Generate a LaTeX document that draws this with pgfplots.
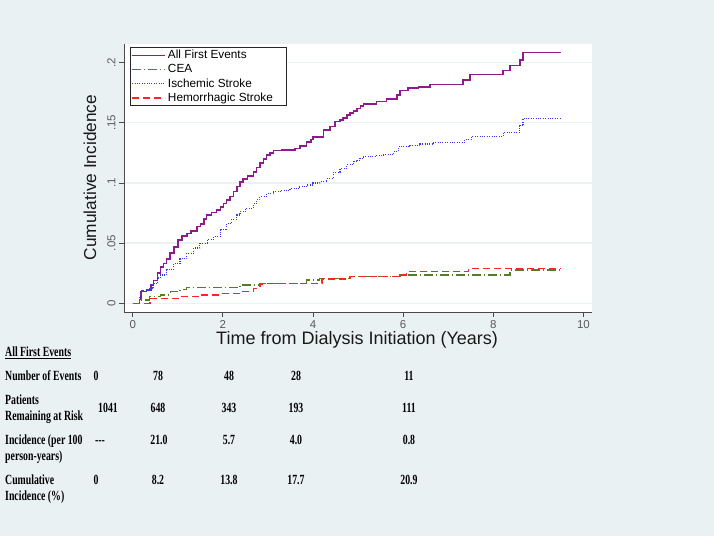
\documentclass[border=0pt]{standalone}
\usepackage{pgfplots}
\pgfplotsset{compat=1.18}
\usepackage{fontspec}
\setmainfont{Liberation Sans}
\newfontfamily\tabfont[FakeStretch=0.7]{Liberation Serif}
\definecolor{bgc}{HTML}{EAF1F3}
\definecolor{gridc}{HTML}{EAF2F3}
\definecolor{axisc}{HTML}{4A4A4A}
\definecolor{tickc}{HTML}{5A5A5A}
\definecolor{cPurple}{HTML}{8E1B8C}
\definecolor{cGreen}{HTML}{537D27}
\definecolor{cBlue}{HTML}{3A3AF5}
\definecolor{cRed}{HTML}{FF2424}

\pgfplotstableread{
x y
0 0
0.15 0.003
0.18 0.0097
0.31 0.011
0.40 0.015
0.46 0.019
0.55 0.025
0.62 0.030
0.68 0.033
0.75 0.037
0.83 0.0416
0.92 0.047
1.01 0.0526
1.10 0.056
1.20 0.058
1.30 0.060
1.42 0.0637
1.50 0.066
1.58 0.070
1.64 0.0734
1.75 0.0755
1.86 0.0776
1.95 0.080
2.01 0.083
2.08 0.086
2.16 0.0886
2.24 0.093
2.31 0.097
2.38 0.101
2.45 0.1033
2.55 0.106
2.68 0.109
2.75 0.113
2.82 0.1164
2.90 0.120
2.97 0.1233
3.05 0.125
3.12 0.1269
3.30 0.1274
3.60 0.1285
3.71 0.1307
3.86 0.1343
3.95 0.136
4.00 0.138
4.23 0.144
4.38 0.1468
4.49 0.151
4.60 0.1524
4.67 0.1538
4.75 0.1565
4.82 0.158
4.90 0.160
4.97 0.162
5.05 0.164
5.12 0.1654
5.41 0.1676
5.63 0.170
5.86 0.173
5.93 0.177
6.11 0.1787
6.34 0.180
6.59 0.182
7.33 0.1856
7.48 0.190
8.22 0.1934
8.37 0.1975
8.59 0.2022
8.66 0.2086
9.50 0.2086
}\allfirst

\pgfplotstableread{
x y
0 0
0.15 0.0055
0.20 0.011
0.38 0.012
0.45 0.0166
0.55 0.021
0.61 0.0235
0.75 0.028
0.90 0.033
1.05 0.037
1.20 0.0416
1.35 0.046
1.49 0.050
1.65 0.053
1.79 0.0554
1.95 0.061
2.09 0.0665
2.20 0.070
2.31 0.0734
2.38 0.0761
2.50 0.079
2.68 0.083
2.75 0.086
2.82 0.0886
2.97 0.091
3.12 0.0928
3.30 0.094
3.49 0.0956
3.70 0.097
3.86 0.0983
4.00 0.100
4.15 0.101
4.30 0.104
4.45 0.109
4.60 0.112
4.75 0.115
4.90 0.118
4.97 0.119
5.04 0.1205
5.12 0.1219
5.40 0.1226
5.56 0.1233
5.78 0.126
5.89 0.130
6.15 0.1308
6.37 0.1324
6.67 0.1335
7.37 0.136
7.52 0.1385
8.22 0.142
8.59 0.1474
8.66 0.1538
9.50 0.1538
}\ischemic

\pgfplotstableread{
x y
0 0
0.15 0.0027
0.38 0.0055
0.61 0.0069
0.83 0.0097
1.05 0.0116
1.20 0.0133
2.38 0.0152
2.82 0.0166
3.86 0.0194
4.15 0.0208
4.82 0.0221
5.93 0.0235
8.37 0.0277
9.50 0.0277
}\cea

\pgfplotstableread{
x y
0 0
0.38 0.0042
1.05 0.0055
1.49 0.0069
1.94 0.0083
2.38 0.0097
2.68 0.0125
2.82 0.0160
2.97 0.0166
4.20 0.0202
4.82 0.0221
5.93 0.0235
6.08 0.0265
7.45 0.0287
9.50 0.0287
}\hemorrhagic

\begin{document}
\begin{tikzpicture}[x=1pt,y=1pt]
\path[fill=bgc] (0,0) rectangle (714,-536);
\begin{axis}[
  at={(124pt,-312pt)}, anchor=south west,
  scale only axis, width=468pt, height=268pt,
  xmin=-0.193, xmax=10.19, ymin=-0.00723, ymax=0.2155,
  axis lines*=left,
  axis line style={-, color=axisc, line width=1pt},
  axis background/.style={fill=white},
  tick align=outside,
  major tick length=5pt,
  tick style={color=axisc, line width=0.8pt},
  xtick={0,2,4,6,8,10}, xticklabels={0,2,4,6,8,10},
  ytick={0,0.05,0.1,0.15,0.2}, yticklabels={0,.05,.1,.15,.2},
  ymajorgrids, grid style={color=gridc, line width=1.3pt},
  ticklabel style={font=\fontsize{11.5}{12}\selectfont, text=tickc},
  yticklabel style={rotate=90, anchor=south},
  xlabel={Time from Dialysis Initiation (Years)},
  ylabel={Cumulative Incidence},
  xlabel style={at={(rel axis cs:0.498,-0.1045)}, anchor=center, font=\fontsize{18}{20}\selectfont, text=black!90},
  ylabel style={at={(rel axis cs:-0.0726,0.502)}, anchor=center, font=\fontsize{17.3}{19}\selectfont, text=black!90},
  legend style={at={(rel axis cs:0.0128,0.989)}, anchor=north west, draw=black!85, line width=0.8pt,
    fill=white, font=\fontsize{11.8}{13}\selectfont, cells={anchor=west}, row sep=0.2pt, inner xsep=1pt, inner ysep=1pt},
  legend image code/.code={\draw[#1] (0pt,0pt) -- (33pt,0pt);},
  clip=false,
]
\addplot[const plot, color=cPurple, line width=1.6pt] table[x=x,y=y] {\allfirst};
\addlegendentry{All First Events}
\addplot[const plot, color=cGreen, line width=1.2pt, dash pattern=on 9pt off 3pt on 1pt off 3pt] table[x=x,y=y] {\cea};
\addlegendentry{CEA}
\addplot[const plot, color=cBlue, line width=1.1pt, dash pattern=on 0.8pt off 1.6pt] table[x=x,y=y] {\ischemic};
\addlegendentry{Ischemic Stroke}
\addplot[const plot, color=cRed, line width=1.4pt, dash pattern=on 7pt off 4pt] table[x=x,y=y] {\hemorrhagic};
\addlegendentry{Hemorrhagic Stroke\rule{10pt}{0pt}}
\end{axis}
\begin{scope}[every node/.style={inner sep=0pt, font=\tabfont\bfseries\fontsize{14}{15}\selectfont}]
\node[anchor=base west] at (5,-356.5) {\underline{All First Events}};
\node[anchor=base west] at (5,-380) {Number of Events};
\node[anchor=base west] at (5,-404) {Patients};
\node[anchor=base west] at (5,-420) {Remaining at Risk};
\node[anchor=base west] at (5,-444.7) {Incidence (per 100};
\node[anchor=base west] at (5,-460.7) {person-years)};
\node[anchor=base west] at (5,-484) {Cumulative};
\node[anchor=base west] at (5,-500.7) {Incidence (\%)};
% row 1
\node[anchor=base] at (96,-380) {0};
\node[anchor=base] at (158,-380) {78};
\node[anchor=base] at (229,-380) {48};
\node[anchor=base] at (296,-380) {28};
\node[anchor=base] at (409,-380) {11};
% row 2
\node[anchor=base] at (108,-412) {1041};
\node[anchor=base] at (158,-412) {648};
\node[anchor=base] at (229,-412) {343};
\node[anchor=base] at (296,-412) {193};
\node[anchor=base] at (409,-412) {111};
% row 3
\node[anchor=base] at (100,-444.7) {---};
\node[anchor=base] at (159,-444.7) {21.0};
\node[anchor=base] at (229,-444.7) {5.7};
\node[anchor=base] at (296,-444.7) {4.0};
\node[anchor=base] at (409,-444.7) {0.8};
% row 4
\node[anchor=base] at (96,-484) {0};
\node[anchor=base] at (158,-484) {8.2};
\node[anchor=base] at (229,-484) {13.8};
\node[anchor=base] at (296,-484) {17.7};
\node[anchor=base] at (409,-484) {20.9};
\end{scope}
\end{tikzpicture}
\end{document}
